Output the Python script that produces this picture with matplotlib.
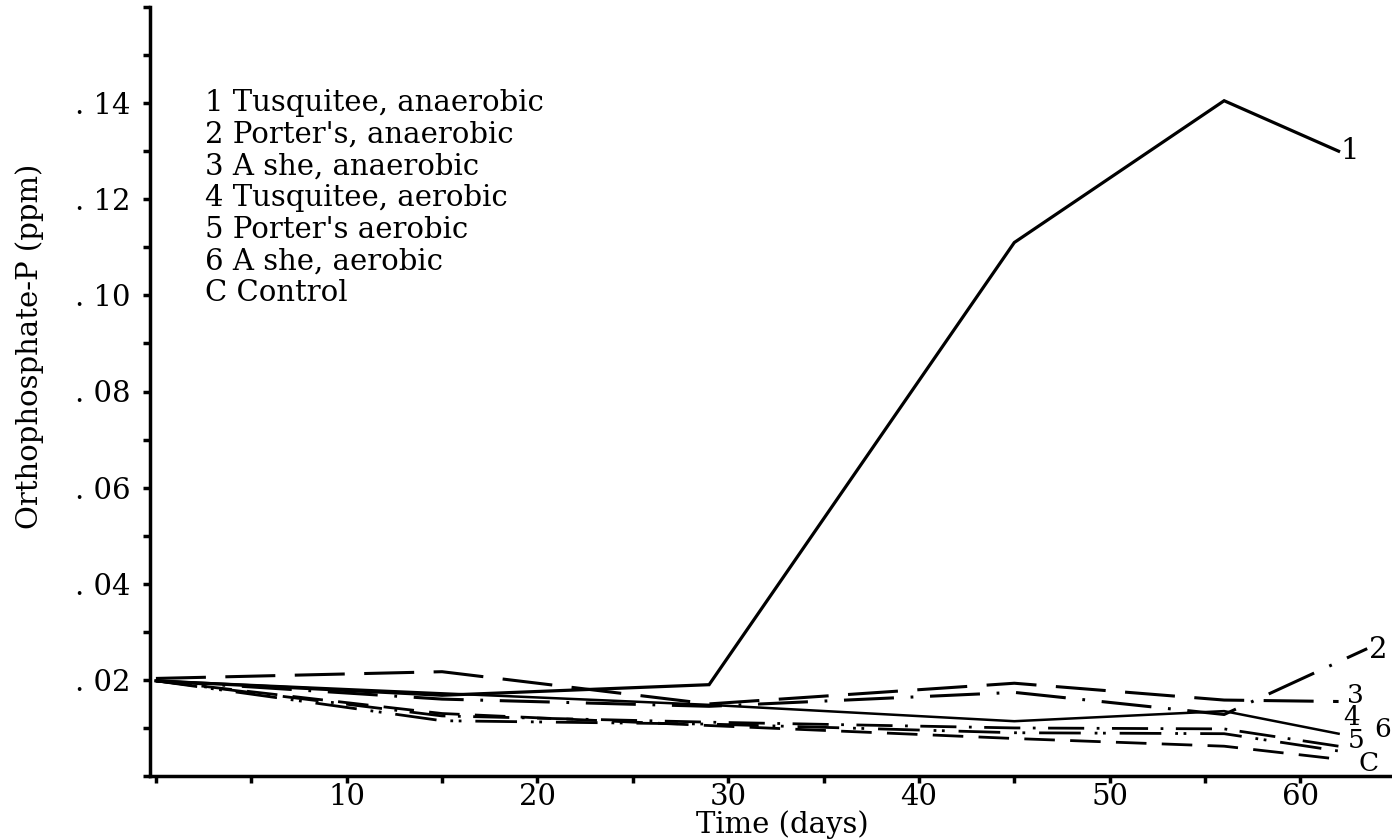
import matplotlib
matplotlib.use("Agg")
import matplotlib.pyplot as plt
from matplotlib.ticker import MultipleLocator, FuncFormatter

plt.rcParams['font.family'] = ['DejaVu Serif']
plt.rcParams['lines.scale_dashes'] = False

days = [0, 15, 29, 45, 56, 62]
days2 = [0, 15, 29, 45, 56, 63.5]

s1 = [0.0198, 0.0168, 0.0190, 0.1110, 0.1405, 0.1300]
s2 = [0.0198, 0.0160, 0.0145, 0.0174, 0.0128, 0.0265]
s3 = [0.0203, 0.0217, 0.0150, 0.0193, 0.0158, 0.0155]
s4 = [0.0198, 0.0172, 0.0148, 0.0114, 0.0135, 0.0088]
s5 = [0.0198, 0.0125, 0.0112, 0.0100, 0.0098, 0.0062]
s6 = [0.0198, 0.0115, 0.0108, 0.0090, 0.0088, 0.0052]
sC = [0.0198, 0.0130, 0.0105, 0.0078, 0.0062, 0.0035]

legend_lines = ["1 Tusquitee, anaerobic", "2 Porter's, anaerobic", "3 A she, anaerobic",
                "4 Tusquitee, aerobic", "5 Porter's aerobic", "6 A she, aerobic", "C Control"]

end_labels = ["1", "2", "3", "4", "5", "6", "C"]
end_x = [62.6, 64.1, 62.9, 62.7, 62.9, 64.3, 63.55]
end_y = [0.130, 0.0262, 0.0168, 0.0121, 0.0073, 0.0096, 0.0027]

FS = 21
END_FS = 19

fig = plt.figure(figsize=(13.92, 8.39), dpi=100)
ax = fig.add_axes([150/1392, 1-776/839, 1-150/1392, (776-7)/839])

ax.plot(days, s1, color='black', lw=2.3, ls='-', solid_joinstyle='miter')
ax.plot(days2, s2, color='black', lw=2.2, ls=(0, (36, 12, 2, 12)))
ax.plot(days, s3, color='black', lw=2.2, ls=(0, (36, 14)))
ax.plot(days, s4, color='black', lw=1.8, ls='-')
ax.plot(days, s5, color='black', lw=2.0, ls=(0, (26, 9, 2, 9)))
ax.plot(days, s6, color='black', lw=2.0, ls=(0, (30, 10, 2, 4, 2, 10)))
ax.plot(days, sC, color='black', lw=2.0, ls=(0, (22, 11)))

ax.set_xlim(-0.31, 64.8)
ax.set_ylim(0, 0.16)
for sp in ['top', 'right']:
    ax.spines[sp].set_visible(False)
for sp in ['left', 'bottom']:
    ax.spines[sp].set_linewidth(2.5)

ax.xaxis.set_major_locator(MultipleLocator(10))
ax.xaxis.set_minor_locator(MultipleLocator(5))
ax.yaxis.set_major_locator(MultipleLocator(0.02))
ax.yaxis.set_minor_locator(MultipleLocator(0.01))
ax.xaxis.set_major_formatter(FuncFormatter(lambda v, p: "" if v <= 0 else f"{int(v)}"))
ax.yaxis.set_major_formatter(FuncFormatter(lambda v, p: "" if v <= 0 or v > 0.145 else f". {int(round(v*100)):02d}"))
ax.tick_params(axis='both', which='both', direction='out', width=2.5, length=5, labelsize=FS)
ax.tick_params(axis='x', pad=0)
ax.tick_params(axis='y', pad=9)

ax.set_xlabel("Time (days)", fontsize=FS)
ax.xaxis.set_label_coords((782-150)/1242, (776-839)/769)
ax.xaxis.label.set_va('bottom')
ax.set_ylabel("Orthophosphate-P (ppm)", fontsize=FS)
ax.yaxis.set_label_coords((44-150)/1242, (776-346)/769)

fig.text(205/1392, 1-89/839, "\n".join(legend_lines), fontsize=FS, va='top', ha='left',
         linespacing=1.17)

for lab, x, y in zip(end_labels, end_x, end_y):
    ax.text(x, y, lab, fontsize=FS if lab in ("1", "2") else END_FS,
            ha='center', va='center', clip_on=False)

fig.savefig("out.png", dpi=100)
